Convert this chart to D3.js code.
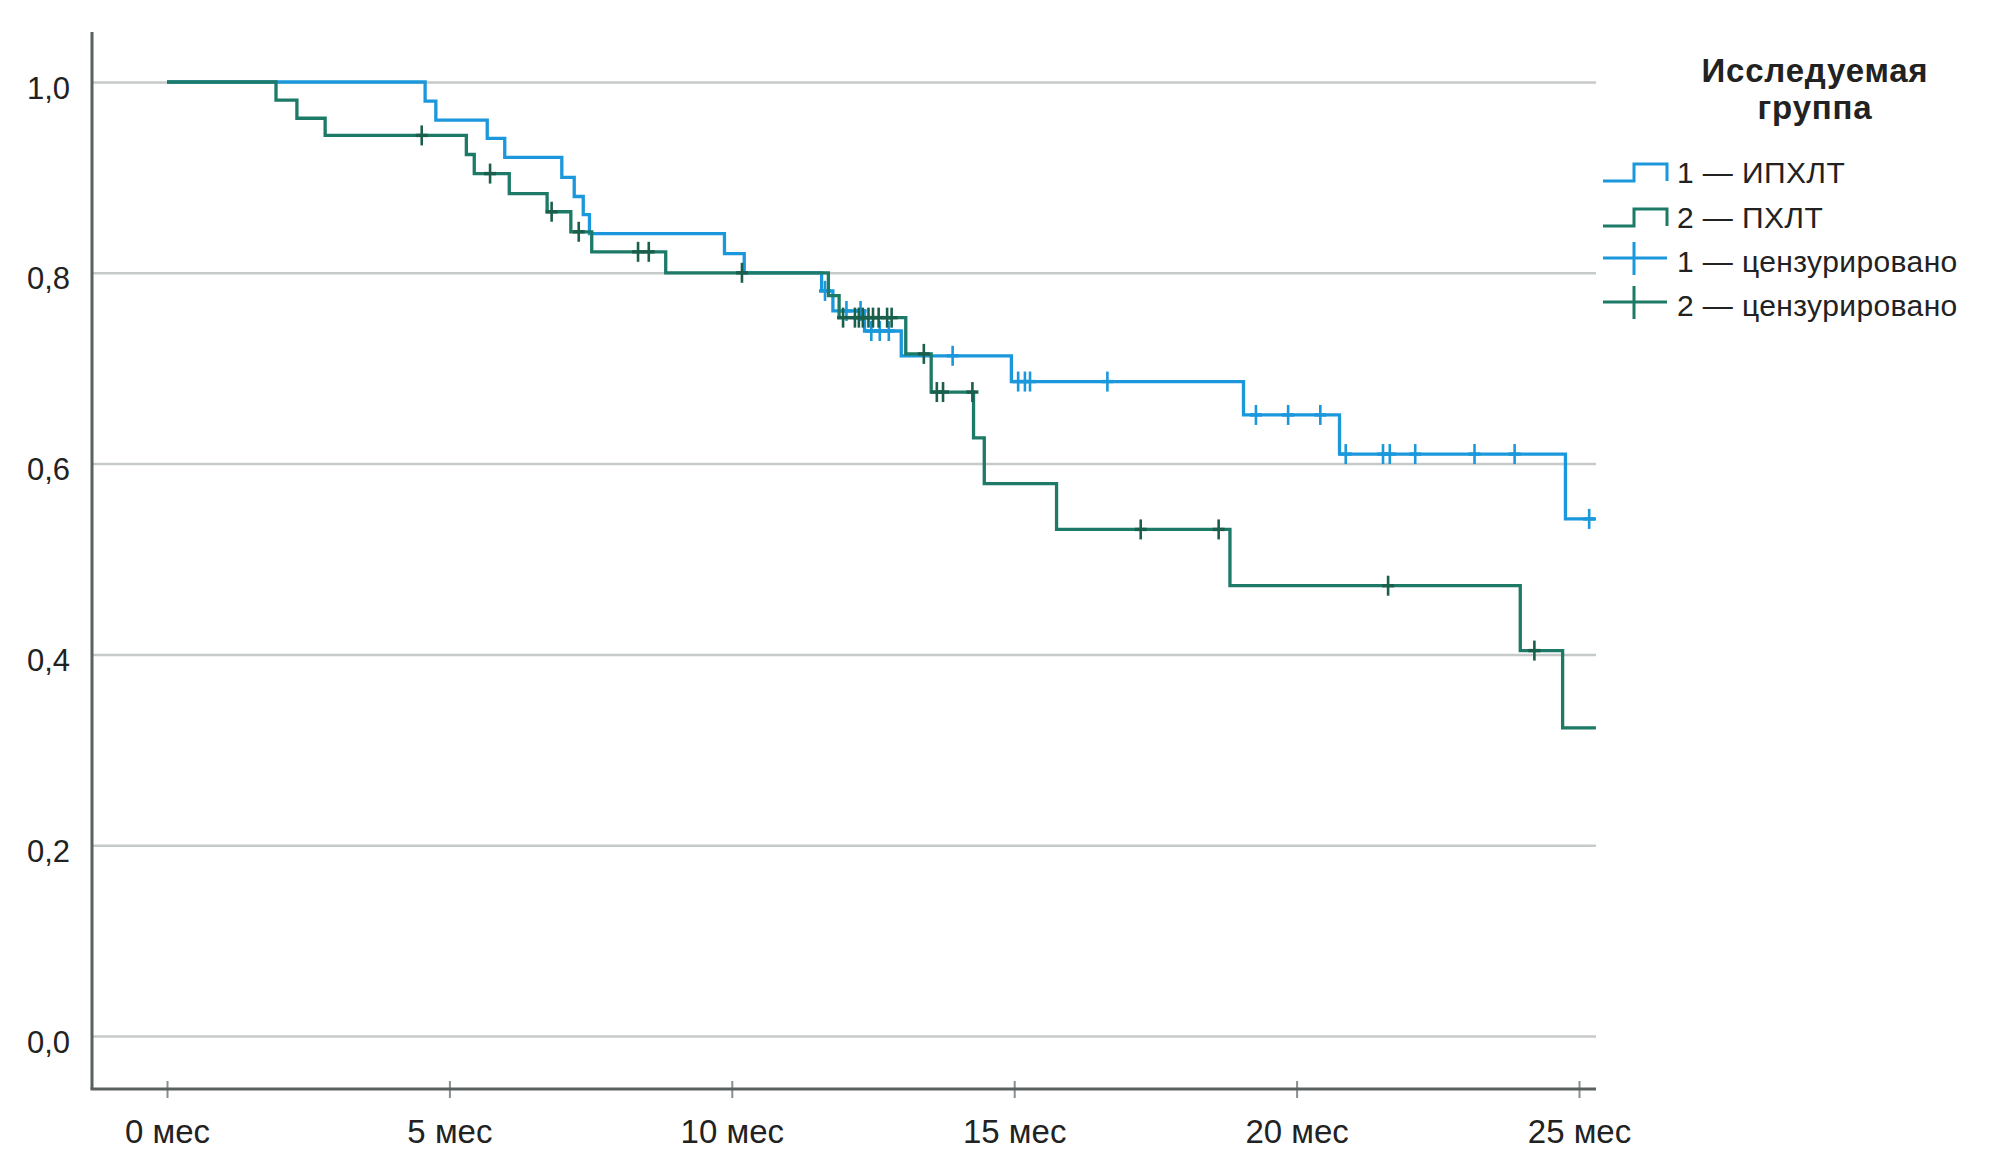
<!DOCTYPE html>
<html>
<head>
<meta charset="utf-8">
<script src="https://cdn.jsdelivr.net/npm/d3@7"></script>
<style>
  html, body { margin: 0; padding: 0; background: #ffffff; }
  svg { display: block; }
  text { font-family: "Liberation Sans", Arial, Helvetica, sans-serif; fill: #222; }
</style>
</head>
<body>
<svg id="chart" width="1993" height="1176"></svg>
<script>
// ---------------- DATA ----------------
const xTicks = [0, 5, 10, 15, 20, 25];
const xTickSuffix = " мес";
const yTicks = [0, 0.2, 0.4, 0.6, 0.8, 1.0];

const legendTitle = ["Исследуемая", "группа"];
const seriesNames = ["1 — ИПХЛТ", "2 — ПХЛТ"];
const censorNames = ["1 — цензурировано", "2 — цензурировано"];

// Group 1 (ИПХЛТ) step times (months) and survival after each step
const times1 = [0, 4.57, 4.76, 5.67, 5.98, 6.99, 7.21, 7.37, 7.48, 9.87, 10.22, 11.59, 11.79, 12.35, 13.0, 14.95, 19.06, 20.76, 24.76];
const surv1  = [1.0, 0.980, 0.960, 0.941, 0.921, 0.900, 0.880, 0.861, 0.841, 0.820, 0.800, 0.781, 0.760, 0.739, 0.713, 0.686, 0.651, 0.610, 0.542];
const end1 = 25.3;
const censor1 = [11.65, 12.03, 12.28, 12.47, 12.62, 12.78, 13.91, 15.07, 15.19, 15.28, 16.65, 19.28, 19.85, 20.42, 20.87, 21.53, 21.65, 22.10, 23.15, 23.86, 25.18];

// Group 2 (ПХЛТ)
const times2 = [0, 1.93, 2.30, 2.80, 5.30, 5.44, 6.06, 6.73, 7.15, 7.52, 8.83, 11.71, 11.90, 13.08, 13.53, 14.28, 14.47, 15.75, 18.82, 23.96, 24.71];
const surv2  = [1.0, 0.981, 0.962, 0.944, 0.924, 0.904, 0.883, 0.864, 0.843, 0.822, 0.800, 0.776, 0.753, 0.715, 0.675, 0.627, 0.579, 0.531, 0.472, 0.404, 0.323];
const end2 = 25.3;
const censor2 = [4.51, 5.72, 6.81, 7.29, 8.34, 8.53, 10.18, 11.97, 12.18, 12.25, 12.32, 12.42, 12.50, 12.60, 12.75, 12.83, 13.40, 13.63, 13.74, 14.26, 17.24, 18.62, 21.62, 24.21];

// ---------------- STYLE / LAYOUT ----------------
const blue = "#1b98db";
const green = "#1c7a67";
const greenCensor = "#1a5f4c";
const gridColor = "#c7caca";
const axisColor = "#5a6161";

const plotLeft = 92, plotRight = 1596, plotTop = 32, plotBottom = 1089;

const svg = d3.select("#chart");
svg.append("rect").attr("width", 1993).attr("height", 1176).attr("fill", "#fff");

const x = d3.scaleLinear().domain([0, 25]).range([167, 1579]);
const y = d3.scaleLinear().domain([0, 1]).range([1036, 82]);

// gridlines
const grid = svg.append("g").attr("transform", `translate(${plotLeft},0)`)
  .call(d3.axisLeft(y).tickValues(yTicks).tickSize(-(plotRight - plotLeft)).tickFormat(""));
grid.select(".domain").remove();
grid.selectAll("line").attr("stroke", gridColor).attr("stroke-width", 2.5);

// y labels
const yl = svg.append("g").attr("transform", `translate(${plotLeft},0)`)
  .call(d3.axisLeft(y).tickValues(yTicks).tickSize(0).tickPadding(22)
    .tickFormat(d => d3.format(".1f")(d).replace(".", ",")));
yl.select(".domain").remove();
yl.selectAll("text").attr("font-size", 31).attr("dy", null).attr("y", 16)
  .attr("fill", "#222").attr("font-family", "'Liberation Sans', Arial, sans-serif");

// x axis
const xa = svg.append("g").attr("transform", `translate(0,${plotBottom})`)
  .call(d3.axisBottom(x).tickValues(xTicks).tickSize(9).tickFormat(d => d + xTickSuffix));
xa.select(".domain").remove();
xa.selectAll(".tick line").attr("y1", -8).attr("y2", 9).attr("stroke", "#8a8f8f").attr("stroke-width", 2);
xa.selectAll("text").attr("font-size", 33).attr("dy", null).attr("y", 54)
  .attr("fill", "#222").attr("font-family", "'Liberation Sans', Arial, sans-serif");

// axis lines
svg.append("line").attr("x1", plotLeft).attr("x2", plotLeft).attr("y1", plotTop).attr("y2", plotBottom)
  .attr("stroke", axisColor).attr("stroke-width", 3);
svg.append("line").attr("x1", plotLeft - 1.5).attr("x2", plotRight).attr("y1", plotBottom).attr("y2", plotBottom)
  .attr("stroke", axisColor).attr("stroke-width", 3);

// step curves
const line = d3.line().x(d => x(d[0])).y(d => y(d[1])).curve(d3.curveStepAfter);
function pts(times, surv, end) {
  const p = times.map((t, i) => [t, surv[i]]);
  p.push([end, surv[surv.length - 1]]);
  return p;
}
function survAt(times, surv, t) {
  let v = surv[0];
  for (let i = 0; i < times.length; i++) if (times[i] <= t) v = surv[i];
  return v;
}
function drawSeries(times, surv, end, cens, color, cColor) {
  svg.append("path").datum(pts(times, surv, end))
    .attr("d", line).attr("fill", "none").attr("stroke", color)
    .attr("stroke-width", 3.3).attr("stroke-linejoin", "miter");
  const g = svg.append("g");
  cens.forEach(t => {
    const cx = x(t), cy = y(survAt(times, surv, t));
    g.append("line").attr("x1", cx).attr("x2", cx).attr("y1", cy - 10).attr("y2", cy + 10)
      .attr("stroke", cColor).attr("stroke-width", 2.6);
    g.append("line").attr("x1", cx - 6).attr("x2", cx + 6).attr("y1", cy).attr("y2", cy)
      .attr("stroke", cColor).attr("stroke-width", 3.4);
  });
}
drawSeries(times1, surv1, end1, censor1, blue, blue);
drawSeries(times2, surv2, end2, censor2, green, greenCensor);

// legend
const lg = svg.append("g");
lg.selectAll("text.title").data(legendTitle).enter().append("text")
  .attr("class", "title")
  .attr("x", 1815).attr("y", (d, i) => 82 + i * 37)
  .attr("text-anchor", "middle").attr("font-size", 33).attr("font-weight", "bold")
  .attr("letter-spacing", 0.8)
  .text(d => d);

const rowY = [173, 218, 262, 306];
const cols = [blue, green];
seriesNames.forEach((name, i) => {
  const cy = rowY[i];
  lg.append("path")
    .attr("d", `M1603,${cy + 8} H1634 V${cy - 9} H1667 V${cy + 8}`)
    .attr("fill", "none").attr("stroke", cols[i]).attr("stroke-width", 3);
  lg.append("text").attr("x", 1677).attr("y", cy + 10).attr("font-size", 30)
    .attr("letter-spacing", 0.4).text(name);
});
censorNames.forEach((name, j) => {
  const cy = rowY[j + 2] - 4;
  lg.append("line").attr("x1", 1603).attr("x2", 1667).attr("y1", cy).attr("y2", cy)
    .attr("stroke", cols[j]).attr("stroke-width", 3);
  lg.append("line").attr("x1", 1634).attr("x2", 1634).attr("y1", cy - 16).attr("y2", cy + 17)
    .attr("stroke", cols[j]).attr("stroke-width", 3);
  lg.append("text").attr("x", 1677).attr("y", cy + 14).attr("font-size", 30)
    .attr("letter-spacing", 0.4).text(name);
});
</script>
</body>
</html>
